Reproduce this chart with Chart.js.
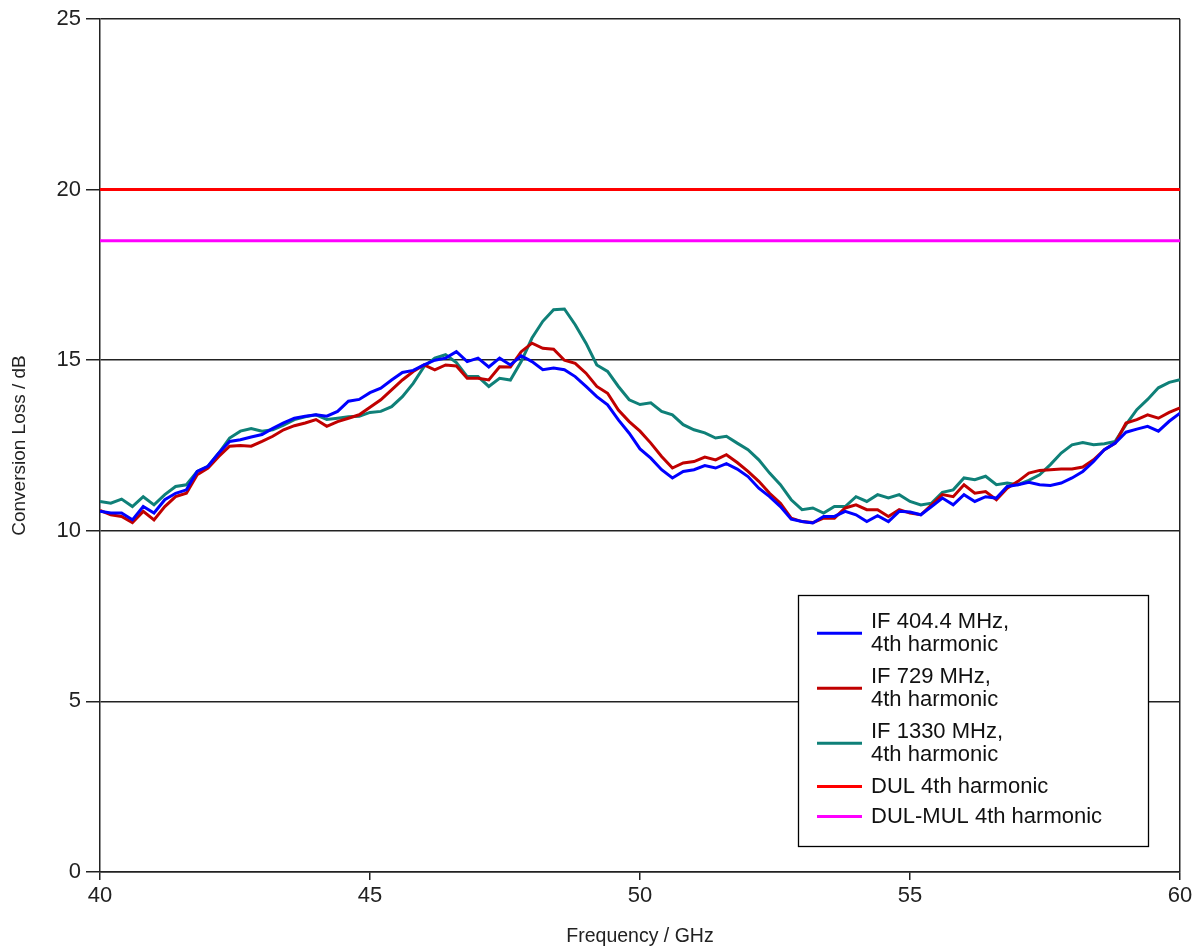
<!DOCTYPE html>
<html>
<head>
<meta charset="utf-8">
<script src="https://cdn.jsdelivr.net/npm/chart.js@4/dist/chart.umd.min.js"></script>
<style>
  body { margin: 0; background: #fff; }
  canvas { display: block; }
</style>
</head>
<body>
<canvas id="lossChart" width="1203" height="948"></canvas>
<script>
// frequency grid in GHz
var freqs = [
    40.0, 40.2, 40.4, 40.6, 40.8, 41.0, 41.2, 41.4, 41.6, 41.8,
    42.0, 42.2, 42.4, 42.6, 42.8, 43.0, 43.2, 43.4, 43.6, 43.8,
    44.0, 44.2, 44.4, 44.6, 44.8, 45.0, 45.2, 45.4, 45.6, 45.8,
    46.0, 46.2, 46.4, 46.6, 46.8, 47.0, 47.2, 47.4, 47.6, 47.8,
    48.0, 48.2, 48.4, 48.6, 48.8, 49.0, 49.2, 49.4, 49.6, 49.8,
    50.0, 50.2, 50.4, 50.6, 50.8, 51.0, 51.2, 51.4, 51.6, 51.8,
    52.0, 52.2, 52.4, 52.6, 52.8, 53.0, 53.2, 53.4, 53.6, 53.8,
    54.0, 54.2, 54.4, 54.6, 54.8, 55.0, 55.2, 55.4, 55.6, 55.8,
    56.0, 56.2, 56.4, 56.6, 56.8, 57.0, 57.2, 57.4, 57.6, 57.8,
    58.0, 58.2, 58.4, 58.6, 58.8, 59.0, 59.2, 59.4, 59.6, 59.8,
    60.0
];

// conversion loss in dB
var if404 = [
    10.57, 10.52, 10.52, 10.32, 10.71, 10.52, 10.91, 11.10, 11.20, 11.74,
    11.89, 12.28, 12.62, 12.67, 12.75, 12.82, 13.00, 13.16, 13.30, 13.36,
    13.40, 13.36, 13.50, 13.80, 13.85, 14.05, 14.18, 14.42, 14.64, 14.70,
    14.86, 15.00, 15.06, 15.25, 14.96, 15.06, 14.80, 15.06, 14.86, 15.13,
    14.96, 14.72, 14.77, 14.72, 14.52, 14.23, 13.93, 13.69, 13.25, 12.86,
    12.40, 12.13, 11.79, 11.55, 11.74, 11.79, 11.91, 11.84, 11.97, 11.81,
    11.59, 11.25, 11.00, 10.71, 10.34, 10.27, 10.23, 10.42, 10.42, 10.57,
    10.47, 10.27, 10.44, 10.27, 10.57, 10.55, 10.47, 10.71, 10.96, 10.76,
    11.06, 10.86, 11.00, 10.96, 11.30, 11.35, 11.42, 11.35, 11.33, 11.40,
    11.55, 11.74, 12.03, 12.38, 12.57, 12.89, 12.98, 13.06, 12.92, 13.21,
    13.45
];
var if729 = [
    10.60, 10.47, 10.42, 10.24, 10.57, 10.32, 10.71, 11.00, 11.10, 11.64,
    11.84, 12.18, 12.48, 12.50, 12.48, 12.62, 12.77, 12.96, 13.08, 13.16,
    13.26, 13.06, 13.20, 13.30, 13.40, 13.62, 13.84, 14.13, 14.42, 14.67,
    14.86, 14.72, 14.86, 14.83, 14.47, 14.47, 14.42, 14.81, 14.80, 15.25,
    15.50, 15.35, 15.32, 15.00, 14.91, 14.62, 14.23, 14.03, 13.54, 13.20,
    12.92, 12.57, 12.18, 11.84, 11.99, 12.03, 12.16, 12.08, 12.23, 12.00,
    11.74, 11.45, 11.10, 10.81, 10.37, 10.27, 10.24, 10.37, 10.37, 10.67,
    10.76, 10.62, 10.62, 10.42, 10.62, 10.52, 10.47, 10.76, 11.06, 11.00,
    11.35, 11.10, 11.15, 10.91, 11.25, 11.45, 11.69, 11.77, 11.79, 11.81,
    11.81, 11.87, 12.08, 12.38, 12.57, 13.16, 13.26, 13.40, 13.30, 13.47,
    13.60
];
var if1330 = [
    10.86, 10.81, 10.93, 10.71, 11.00, 10.76, 11.06, 11.30, 11.35, 11.74,
    11.89, 12.28, 12.72, 12.92, 13.00, 12.92, 12.96, 13.10, 13.26, 13.34,
    13.40, 13.26, 13.30, 13.34, 13.36, 13.47, 13.50, 13.64, 13.93, 14.32,
    14.81, 15.06, 15.16, 14.93, 14.52, 14.52, 14.23, 14.47, 14.42, 14.96,
    15.65, 16.14, 16.48, 16.50, 16.04, 15.50, 14.86, 14.67, 14.23, 13.84,
    13.70, 13.75, 13.50, 13.40, 13.11, 12.96, 12.87, 12.72, 12.77, 12.57,
    12.38, 12.08, 11.69, 11.35, 10.91, 10.62, 10.67, 10.52, 10.71, 10.71,
    11.00, 10.86, 11.06, 10.96, 11.06, 10.86, 10.76, 10.81, 11.13, 11.20,
    11.55, 11.50, 11.60, 11.35, 11.40, 11.35, 11.48, 11.64, 11.94, 12.28,
    12.52, 12.59, 12.52, 12.55, 12.62, 13.11, 13.55, 13.85, 14.19, 14.35,
    14.43
];

// limit lines
var limitFreqs = [40, 60];
var dulLevel = [20, 20];
var dulMulLevel = [18.5, 18.5];

var xTicks = [40, 45, 50, 55, 60];
var yTicks = [0, 5, 10, 15, 20, 25];

var seriesNames = [
    ['IF 404.4 MHz,', '4th harmonic'],
    ['IF 729 MHz,', '4th harmonic'],
    ['IF 1330 MHz,', '4th harmonic'],
    ['DUL 4th harmonic'],
    ['DUL-MUL 4th harmonic']
];

var FONT = '"Liberation Sans", Arial, sans-serif';

function toPoints(xs, ys) {
    return xs.map(function (x, i) { return { x: x, y: ys[i] }; });
}

function lineSet(name, xs, ys, color) {
    return {
        label: name.join(' '),
        legendLines: name,
        data: toPoints(xs, ys),
        borderColor: color,
        backgroundColor: color,
        borderWidth: 3,
        pointRadius: 0,
        tension: 0,
        fill: false
    };
}

// legend drawn as a framed box inside the plot, two-line labels
var boxLegend = {
    id: 'boxLegend',
    afterDraw: function (chart) {
        var ctx = chart.ctx;
        var box = { x: 798.5, y: 595.5, w: 350, h: 251 };
        ctx.save();
        ctx.fillStyle = '#fff';
        ctx.fillRect(box.x, box.y, box.w, box.h);
        ctx.strokeStyle = '#000';
        ctx.lineWidth = 1.3;
        ctx.strokeRect(box.x, box.y, box.w, box.h);
        ctx.font = '22px ' + FONT;
        ctx.textBaseline = 'middle';
        ctx.textAlign = 'left';
        var lineH = 23.5;
        var y = 621.5; // centre of the first text row
        chart.data.datasets.forEach(function (ds) {
            var lines = ds.legendLines;
            var mid = y + (lines.length - 1) * lineH / 2;
            ctx.strokeStyle = ds.borderColor;
            ctx.lineWidth = 3;
            ctx.beginPath();
            ctx.moveTo(817, mid);
            ctx.lineTo(862, mid);
            ctx.stroke();
            ctx.fillStyle = '#111';
            lines.forEach(function (t, i) {
                ctx.fillText(t, 871, y + i * lineH);
            });
            y += (lines.length - 1) * lineH + (lines.length > 1 ? 31.5 : 30);
        });
        ctx.restore();
    }
};

var config = {
    type: 'line',
    data: {
        datasets: [
            lineSet(seriesNames[0], freqs, if404, '#0000ff'),
            lineSet(seriesNames[1], freqs, if729, '#c00000'),
            lineSet(seriesNames[2], freqs, if1330, '#0f8078'),
            lineSet(seriesNames[3], limitFreqs, dulLevel, '#ff0000'),
            lineSet(seriesNames[4], limitFreqs, dulMulLevel, '#ff00ff')
        ]
    },
    options: {
        responsive: false,
        animation: false,
        layout: { padding: { top: 19, right: 23, bottom: 0, left: 0 } },
        plugins: {
            legend: { display: false },
            tooltip: { enabled: false }
        },
        scales: {
            x: {
                type: 'linear',
                min: 40,
                max: 60,
                afterBuildTicks: function (scale) {
                    scale.ticks = xTicks.map(function (v) { return { value: v }; });
                },
                afterFit: function (scale) { scale.height = 76; },
                ticks: {
                    color: '#222',
                    padding: 3,
                    maxRotation: 0,
                    font: { family: FONT, size: 22 }
                },
                grid: {
                    color: function (c) {
                        return c.tick && c.tick.value === 60 ? '#222' : 'rgba(0,0,0,0)';
                    },
                    tickColor: '#222',
                    tickLength: 8,
                    lineWidth: 1.5
                },
                border: { color: '#222', width: 1.5 },
                title: {
                    display: true,
                    text: 'Frequency / GHz',
                    color: '#222',
                    padding: { top: 0, bottom: 0 },
                    font: { family: FONT, size: 19.5 }
                }
            },
            y: {
                min: 0,
                max: 25,
                afterBuildTicks: function (scale) {
                    scale.ticks = yTicks.map(function (v) { return { value: v }; });
                },
                afterFit: function (scale) { scale.width = 100; },
                ticks: {
                    color: '#222',
                    padding: 5,
                    font: { family: FONT, size: 22 }
                },
                grid: {
                    color: '#222',
                    tickColor: '#222',
                    tickLength: 14,
                    lineWidth: 1.5
                },
                border: { color: '#222', width: 1.5 },
                title: {
                    display: true,
                    text: 'Conversion Loss / dB',
                    color: '#222',
                    padding: { top: 8, bottom: 0 },
                    font: { family: FONT, size: 19 }
                }
            }
        }
    },
    plugins: [boxLegend]
};

var ctx = document.getElementById('lossChart').getContext('2d');
var lossChart = new Chart(ctx, config);
</script>
</body>
</html>
